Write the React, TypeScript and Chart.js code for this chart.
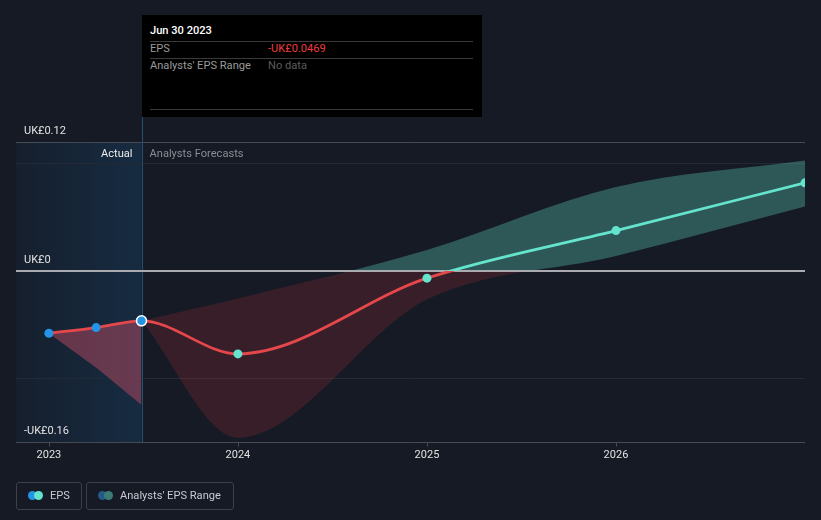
import React, { useEffect, useRef } from 'react';
import { Chart, registerables } from 'chart.js';

Chart.register(...registerables);

// ---- data ----
const epsDates = [2023.0, 2023.25, 2023.49, 2024.0, 2025.0, 2026.0, 2027.0];
const epsValues = [-0.0585, -0.0532, -0.0469, -0.0778, -0.0071, 0.0373, 0.0819];
const actualRangeDates = [2023.0, 2023.25, 2023.49];
const actualRangeHigh = [-0.0585, -0.0532, -0.0469];
const actualRangeLow = [-0.0585, -0.0908, -0.1254];
const forecastDates = [2023.49, 2024.0, 2025.0, 2026.0, 2027.0];
const forecastHigh = [-0.0469, -0.026, 0.0193, 0.078, 0.1027];
const forecastLow = [-0.0469, -0.156, -0.027, 0.0137, 0.0598];
const actualCount = 3;
const yearTicks = [2023, 2024, 2025, 2026];
const yLabelValues = [0.12, 0, -0.16];
const yLabelTexts = ['UK£0.12', 'UK£0', '-UK£0.16'];
const gridValues = [0.1, -0.1];
const xMin = 2022.826;
const xMax = 2027.0;
const yMin = -0.16;
const yMax = 0.12;

const BG = '#151a24';
const RED = '#e5474b';
const TEAL = '#64e4cd';
const BLUE = '#2394e6';
const FONT = 'Roboto, "Noto Sans", sans-serif';
const FS = 11.1;

const pts = (xs: number[], ys: number[]) => xs.map((x, i) => ({ x, y: ys[i] }));

export default function App() {
  const ref = useRef<HTMLCanvasElement>(null);

  useEffect(() => {
    document.body.style.margin = '0';
    document.body.style.background = BG;
    const canvas = ref.current!;

    const zeroSplit = (pos: string, neg: string) => (c: any) => {
      const chart = c.chart;
      const a = chart.chartArea;
      if (!a) return neg;
      const y0 = chart.scales.y.getPixelForValue(0);
      let s = (y0 - a.top) / (a.bottom - a.top);
      s = Math.min(1, Math.max(0, s));
      const g = chart.ctx.createLinearGradient(0, a.top, 0, a.bottom);
      g.addColorStop(0, pos);
      g.addColorStop(s, pos);
      g.addColorStop(s, neg);
      g.addColorStop(1, neg);
      return g;
    };

    const actualEnd = epsDates[actualCount - 1];

    const decor = {
      id: 'decor',
      beforeDatasetsDraw(chart: any) {
        const { ctx, chartArea: a, scales } = chart;
        const x = scales.x, y = scales.y;
        const xa = x.getPixelForValue(actualEnd);
        ctx.save();
        const g = ctx.createLinearGradient(a.left, 0, xa, 0);
        g.addColorStop(0, 'rgba(30,100,160,0.08)');
        g.addColorStop(1, 'rgba(30,100,160,0.24)');
        ctx.fillStyle = g;
        ctx.fillRect(a.left, a.top, xa - a.left, a.bottom - a.top);
        // grid
        ctx.lineWidth = 1;
        ctx.strokeStyle = '#232a35';
        gridValues.forEach((v) => {
          const py = Math.round(y.getPixelForValue(v)) + 0.5;
          ctx.beginPath();
          ctx.moveTo(a.left, py);
          ctx.lineTo(a.right, py);
          ctx.stroke();
        });
        ctx.strokeStyle = '#454a55';
        const pt = Math.round(y.getPixelForValue(yMax)) + 0.5;
        ctx.beginPath();
        ctx.moveTo(a.left, pt);
        ctx.lineTo(a.right, pt);
        ctx.stroke();
        const pb = Math.round(y.getPixelForValue(yMin)) + 0.5;
        ctx.beginPath();
        ctx.moveTo(a.left, pb);
        ctx.lineTo(a.right, pb);
        ctx.stroke();
        yearTicks.forEach((t) => {
          const px = Math.round(x.getPixelForValue(t)) + 0.5;
          ctx.beginPath();
          ctx.moveTo(px, pb);
          ctx.lineTo(px, pb + 4);
          ctx.stroke();
        });
        // hover vertical line
        ctx.strokeStyle = '#25506f';
        ctx.beginPath();
        ctx.moveTo(Math.round(xa) + 0.5, 117);
        ctx.lineTo(Math.round(xa) + 0.5, a.bottom);
        ctx.stroke();
        ctx.restore();
      },
      afterDatasetDraw(chart: any, args: any) {
        if (args.index !== 1) return;
        const { ctx, chartArea: a, scales } = chart;
        const p0 = Math.round(scales.y.getPixelForValue(0));
        ctx.save();
        ctx.strokeStyle = '#a9abb0';
        ctx.lineWidth = 2;
        ctx.beginPath();
        ctx.moveTo(a.left, p0);
        ctx.lineTo(a.right, p0);
        ctx.stroke();
        ctx.restore();
      },
      afterDraw(chart: any) {
        const { ctx, chartArea: a, scales } = chart;
        const x = scales.x, y = scales.y;
        ctx.save();
        ctx.font = `11px ${FONT}`;
        ctx.fillStyle = '#e2e2e2';
        ctx.textBaseline = 'middle';
        ctx.textAlign = 'left';
        yLabelValues.forEach((v, i) => {
          ctx.fillText(yLabelTexts[i], a.left + 8, y.getPixelForValue(v) - 10.5);
        });
        ctx.textAlign = 'center';
        yearTicks.forEach((t) => {
          ctx.fillText(String(t), x.getPixelForValue(t), a.bottom + 13);
        });
        const xa = x.getPixelForValue(actualEnd);
        ctx.font = `${FS}px ${FONT}`;
        ctx.textAlign = 'right';
        ctx.fillStyle = '#ececec';
        ctx.fillText('Actual', xa - 9, a.top + 12);
        ctx.textAlign = 'left';
        ctx.fillStyle = '#8a8d93';
        ctx.fillText('Analysts Forecasts', xa + 8, a.top + 12);
        ctx.restore();
      },
    };

    const pointColors = epsDates.map((_, i) => (i < actualCount ? BLUE : TEAL));
    const pointBorders = epsDates.map((_, i) => (i === actualCount - 1 ? '#ffffff' : i < actualCount ? BLUE : TEAL));
    const pointBorderW = epsDates.map((_, i) => (i === actualCount - 1 ? 1.5 : 0));
    const pointR = epsDates.map((_, i) => (i === actualCount - 1 ? 5 : 4.5));

    const chart = new Chart(canvas, {
      type: 'line',
      data: {
        datasets: [
          {
            label: 'EPS',
            data: pts(epsDates, epsValues),
            borderColor: zeroSplit(TEAL, RED) as any,
            borderWidth: 2.8,
            cubicInterpolationMode: 'monotone',
            pointBackgroundColor: pointColors,
            pointBorderColor: pointBorders,
            pointBorderWidth: pointBorderW,
            pointRadius: pointR,
            fill: false,
            clip: 0,
          } as any,
          {
            label: 'actualHigh',
            data: pts(actualRangeDates, actualRangeHigh),
            borderWidth: 0,
            pointRadius: 0,
            cubicInterpolationMode: 'monotone',
            fill: false,
          },
          {
            label: 'actualLow',
            data: pts(actualRangeDates, actualRangeLow),
            borderWidth: 0,
            pointRadius: 0,
            tension: 0.2,
            backgroundColor: 'rgba(215,80,105,0.42)',
            fill: '-1',
          },
          {
            label: 'forecastHigh',
            data: pts(forecastDates, forecastHigh),
            borderWidth: 0,
            pointRadius: 0,
            cubicInterpolationMode: 'monotone',
            fill: false,
          },
          {
            label: 'forecastLow',
            data: pts(forecastDates, forecastLow),
            borderWidth: 0,
            pointRadius: 0,
            cubicInterpolationMode: 'monotone',
            backgroundColor: zeroSplit('rgba(100,220,200,0.32)', 'rgba(200,50,60,0.2)') as any,
            fill: '-1',
          },
        ],
      },
      options: {
        animation: false,
        responsive: false,
        devicePixelRatio: 1,
        layout: { padding: { left: 16, right: 16, top: 142, bottom: 78 } },
        plugins: { legend: { display: false }, tooltip: { enabled: false } },
        events: [],
        scales: {
          x: { type: 'linear', min: xMin, max: xMax, display: false },
          y: { type: 'linear', min: yMin, max: yMax, display: false },
        },
      },
      plugins: [decor],
    });
    return () => chart.destroy();
  }, []);

  const txt = (extra: any) => ({ position: 'absolute' as const, fontFamily: FONT, fontSize: FS, lineHeight: '14px', whiteSpace: 'nowrap' as const, ...extra });
  const rule = (top: number) => ({ position: 'absolute' as const, left: 8, width: 323, top, height: 1, background: '#3a3a3a' });
  const dot = (left: number, color: string) => ({ position: 'absolute' as const, left, top: 8, width: 9, height: 9, borderRadius: '50%', background: color });
  const box = (left: number, width: number) => ({ position: 'absolute' as const, left, top: 482, width, height: 28, boxSizing: 'border-box' as const, border: '1px solid #3b404a', borderRadius: 3 });

  return (
    <div style={{ position: 'relative', width: 821, height: 520, background: BG, overflow: 'hidden' }}>
      <canvas ref={ref} width={821} height={520} style={{ position: 'absolute', left: 0, top: 0, width: 821, height: 520 }} />
      <div style={{ position: 'absolute', left: 142, top: 15, width: 340, height: 102, background: '#000' }}>
        <div style={txt({ left: 8, top: 9, color: '#ffffff', fontWeight: 500 })}>Jun 30 2023</div>
        <div style={rule(26)} />
        <div style={txt({ left: 8, top: 27, color: '#9a9a9a' })}>EPS</div>
        <div style={txt({ left: 126, top: 27, color: '#f03c3c' })}>-UK£0.0469</div>
        <div style={rule(43)} />
        <div style={txt({ left: 8, top: 44, color: '#9a9a9a' })}>Analysts' EPS Range</div>
        <div style={txt({ left: 126, top: 44, color: '#5c5c5c' })}>No data</div>
        <div style={rule(94)} />
      </div>
      <div style={box(16, 66)}>
        <div style={dot(11, BLUE)} />
        <div style={dot(17, TEAL)} />
        <div style={txt({ left: 33, top: 6, color: '#c8cad0' })}>EPS</div>
      </div>
      <div style={box(86, 148)}>
        <div style={dot(11, '#245a88')} />
        <div style={dot(17, '#3c7b76')} />
        <div style={txt({ left: 33, top: 6, color: '#c8cad0' })}>Analysts' EPS Range</div>
      </div>
    </div>
  );
}
